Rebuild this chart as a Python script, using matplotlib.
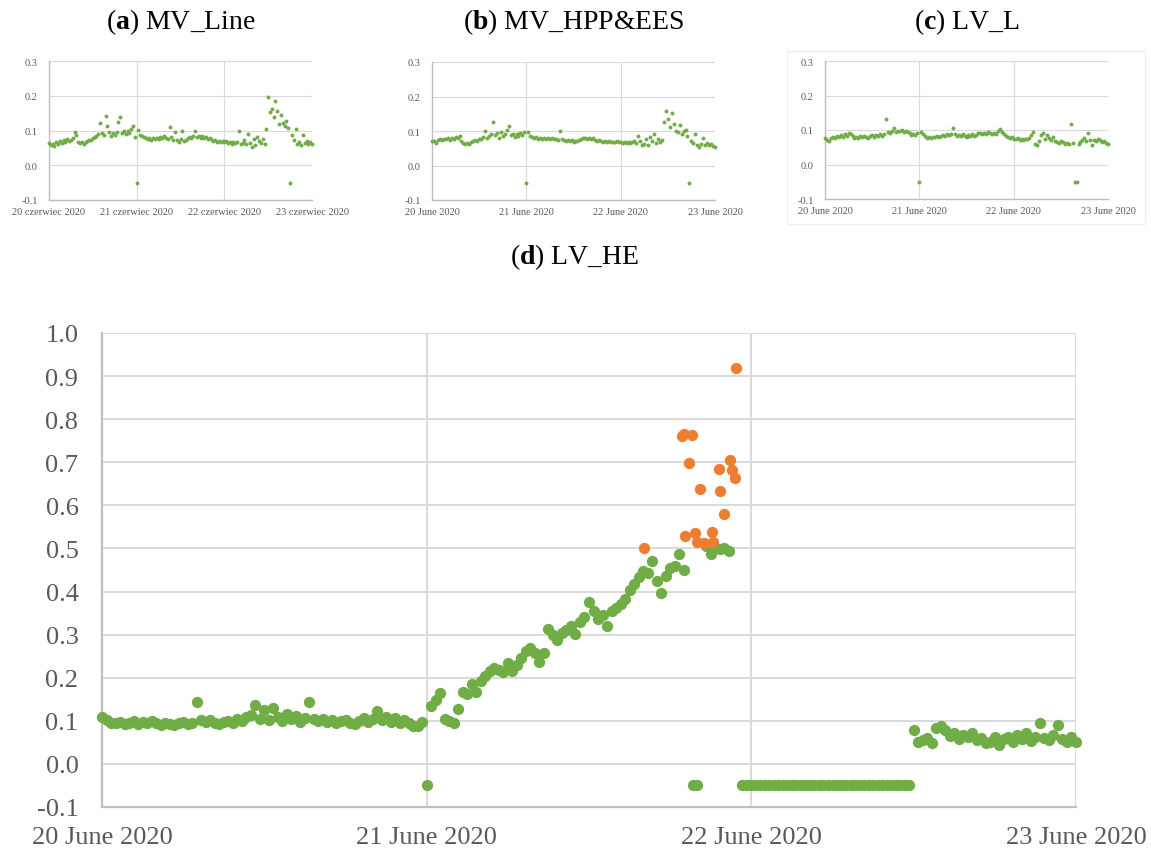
import numpy as np
import pandas as pd
import matplotlib
matplotlib.use('Agg')
import matplotlib.pyplot as plt
from matplotlib.patches import Rectangle

plt.rcParams['font.family'] = ['Liberation Serif', 'DejaVu Serif']
plt.rcParams['mathtext.fontset'] = 'custom'
plt.rcParams['mathtext.rm'] = 'Liberation Serif'
plt.rcParams['mathtext.bf'] = 'Liberation Serif:bold'

nan = np.nan

# ---------------- data ----------------
# small charts: 30-minute samples, 20 June 00:00 .. 23 June 00:00
mv_line = [
    0.064, 0.058, 0.062, 0.056, 0.066, 0.060, 0.070, 0.065, 0.072, 0.068,
    0.075, 0.071, 0.074, 0.078, 0.096, 0.088, 0.068, 0.063, 0.066, 0.062,
    0.068, 0.071, 0.074, 0.072, 0.078, 0.080, 0.085, 0.089, 0.121, 0.092,
    0.086, 0.143, 0.114, 0.095, 0.085, 0.092, 0.088, 0.095, 0.125, 0.138,
    0.092, 0.098, 0.090, 0.100, 0.094, 0.104, 0.112, 0.080, -0.05, 0.102,
    0.088, 0.084, 0.080, 0.078, 0.076, 0.079, 0.074, 0.077, 0.075, 0.078,
    0.076, 0.080, 0.078, 0.083, 0.079, 0.076, 0.110, 0.080, 0.074, 0.096,
    0.072, 0.068, 0.075, 0.098, 0.070, 0.073, 0.078, 0.082, 0.079, 0.084,
    0.098, 0.081, 0.083, 0.079, 0.084, 0.078, 0.081, 0.076, 0.079, 0.074,
    0.070, 0.073, 0.068, 0.071, 0.067, 0.070, 0.066, 0.069, 0.064, 0.068,
    0.062, 0.067, 0.063, 0.066, 0.098, 0.061, 0.065, 0.072, 0.060, 0.089,
    0.063, 0.052, 0.075, 0.058, 0.082, 0.070, 0.064, 0.076, 0.062, 0.104,
    0.197, 0.152, 0.163, 0.140, 0.185, 0.155, 0.118, 0.144, 0.122, 0.113,
    0.127, 0.108, -0.05, 0.088, 0.074, 0.104, 0.062, 0.066, 0.058, 0.088,
    0.064, 0.070, 0.062, 0.066, 0.060,
]
mv_hpp_ees = [
    0.072, 0.070, 0.064, 0.075, 0.077, 0.073, 0.078, 0.076, 0.079, 0.074,
    0.080, 0.077, 0.083, 0.079, 0.086, 0.070, 0.066, 0.062, 0.064, 0.063,
    0.068, 0.070, 0.073, 0.071, 0.076, 0.078, 0.082, 0.100, 0.079, 0.085,
    0.090, 0.126, 0.088, 0.094, 0.081, 0.096, 0.085, 0.091, 0.104, 0.115,
    0.087, 0.092, 0.084, 0.090, 0.086, 0.093, 0.088, 0.097, -0.05, 0.098,
    0.085, 0.083, 0.080, 0.082, 0.077, 0.079, 0.076, 0.080, 0.078, 0.081,
    0.077, 0.079, 0.076, 0.078, 0.075, 0.100, 0.077, 0.074, 0.072, 0.075,
    0.070, 0.073, 0.069, 0.072, 0.070, 0.074, 0.076, 0.079, 0.081, 0.078,
    0.080, 0.076, 0.079, 0.074, 0.072, 0.075, 0.070, 0.069, 0.071, 0.068,
    0.070, 0.067, 0.069, 0.068, 0.070, 0.067, 0.069, 0.066, 0.068, 0.065,
    0.067, 0.064, 0.068, 0.072, 0.066, 0.085, 0.070, 0.058, 0.063, 0.078,
    0.060, 0.083, 0.072, 0.090, 0.065, 0.078, 0.068, 0.073, 0.125, 0.157,
    0.135, 0.112, 0.153, 0.120, 0.100, 0.097, 0.117, 0.092, 0.100, 0.104,
    0.085, -0.05, 0.070, 0.064, 0.092, 0.060, 0.055, 0.062, 0.080, 0.058,
    0.064, 0.060, 0.062, 0.056, 0.055,
]
lv_l = [
    0.076, 0.072, 0.068, 0.078, 0.080, 0.076, 0.083, 0.079, 0.085, 0.081,
    0.087, 0.083, 0.092, 0.088, 0.084, 0.078, 0.081, 0.077, 0.082, 0.079,
    0.083, 0.080, 0.078, 0.083, 0.086, 0.081, 0.085, 0.082, 0.087, 0.084,
    0.089, 0.132, 0.094, 0.090, 0.097, 0.105, 0.094, 0.098, 0.096, 0.099,
    0.093, 0.097, 0.095, 0.090, 0.086, 0.089, 0.085, 0.092, -0.05, 0.095,
    0.088, 0.082, 0.078, 0.080, 0.077, 0.081, 0.079, 0.083, 0.080, 0.084,
    0.086, 0.083, 0.088, 0.085, 0.087, 0.105, 0.089, 0.084, 0.086, 0.082,
    0.088, 0.084, 0.080, 0.085, 0.083, 0.087, 0.082, 0.086, 0.090, 0.092,
    0.088, 0.091, 0.089, 0.093, 0.090, 0.087, 0.091, 0.088, 0.096, 0.102,
    0.093, 0.088, 0.084, 0.080, 0.077, 0.079, 0.075, 0.073, 0.076, 0.072,
    0.074, 0.071, 0.075, 0.073, 0.078, 0.085, 0.095, 0.060, 0.056, 0.068,
    0.085, 0.090, 0.074, 0.086, 0.076, 0.071, 0.080, 0.068, 0.066, 0.062,
    0.068, 0.064, 0.060, 0.063, 0.058, 0.118, 0.062, -0.05, -0.05, 0.058,
    0.066, 0.072, 0.078, 0.068, 0.092, 0.070, 0.056, 0.072, 0.068, 0.075,
    0.070, 0.066, 0.068, 0.062, 0.058,
]

# main chart (d): 20-minute samples, green series
lv_he = [
    0.108, 0.101, 0.096, 0.094, 0.098, 0.093, 0.096, 0.099, 0.092, 0.097,
    0.094, 0.099, 0.095, 0.091, 0.096, 0.093, 0.090, 0.094, 0.097, 0.093,
    0.096, 0.143, 0.101, 0.098, 0.102, 0.096, 0.092, 0.097, 0.100, 0.095,
    0.104, 0.099, 0.108, 0.113, 0.137, 0.105, 0.126, 0.103, 0.129, 0.110,
    0.100, 0.115, 0.104, 0.112, 0.098, 0.107, 0.143, 0.104, 0.099, 0.105,
    0.097, 0.102, 0.094, 0.099, 0.103, 0.096, 0.092, 0.100, 0.106, 0.097,
    0.104, 0.123, 0.101, 0.110, 0.098, 0.106, 0.096, 0.102, 0.094, 0.089,
    0.088, 0.097,
    -0.05, 0.134, 0.148, 0.165, 0.104, 0.100, 0.095, 0.127, 0.168, 0.162,
    0.185, 0.166, 0.192, 0.203, 0.215, 0.222, 0.218, 0.213, 0.234, 0.215,
    0.229, 0.245, 0.262, 0.268, 0.257, 0.236, 0.258, 0.312, 0.298, 0.287,
    0.303, 0.310, 0.319, 0.301, 0.329, 0.342, 0.375, 0.354, 0.336, 0.345,
    0.319, 0.356, 0.362, 0.370, 0.382, 0.404, 0.418, 0.433, 0.447, 0.442,
    0.472, 0.424, 0.396, 0.435, 0.454, 0.460, 0.486, 0.451,
    nan, -0.05, -0.05, nan, 0.505, 0.488, 0.502, 0.498, 0.500, 0.493,
    nan, nan,
    -0.05, -0.05, -0.05, -0.05, -0.05, -0.05, -0.05, -0.05, -0.05, -0.05,
    -0.05, -0.05, -0.05, -0.05, -0.05, -0.05, -0.05, -0.05, -0.05, -0.05,
    -0.05, -0.05, -0.05, -0.05, -0.05, -0.05, -0.05, -0.05, -0.05, -0.05,
    -0.05, -0.05, -0.05, -0.05, -0.05, -0.05, -0.05, -0.05,
    0.079, 0.050, 0.055, 0.061, 0.048, 0.084, 0.088, 0.078, 0.065, 0.072,
    0.058, 0.068, 0.062, 0.072, 0.055, 0.060, 0.048, 0.052, 0.062, 0.044,
    0.057, 0.063, 0.052, 0.066, 0.058, 0.071, 0.053, 0.062, 0.094, 0.060,
    0.055, 0.068, 0.090, 0.057, 0.050, 0.063, 0.052,
]
# orange points (hours after 20 June 00:00, value)
orange_hours = [40.1, 42.9, 43.0, 43.1, 43.4, 43.6, 43.8, 44.0, 44.2, 44.5,
                45.1, 45.2, 45.6, 45.7, 46.0, 46.4, 46.6, 46.8, 46.9]
orange_vals = [0.502, 0.760, 0.766, 0.528, 0.699, 0.764, 0.537, 0.516, 0.639, 0.512,
               0.539, 0.514, 0.685, 0.634, 0.581, 0.706, 0.683, 0.664, 0.919]

day_ticks = ['2020-06-20', '2020-06-21', '2020-06-22', '2020-06-23']
labels_pl = ['20 czerwiec 2020', '21 czerwiec 2020', '22 czerwiec 2020', '23 czerwiec 2020']
labels_en = ['20 June 2020', '21 June 2020', '22 June 2020', '23 June 2020']
small_yticks = [-0.1, 0.0, 0.1, 0.2, 0.3]
small_ylabels = ['-0.1', '0.0', '0.1', '0.2', '0.3']
main_yticks = [-0.1, 0.0, 0.1, 0.2, 0.3, 0.4, 0.5, 0.6, 0.7, 0.8, 0.9, 1.0]
main_ylabels = ['-0.1', '0.0', '0.1', '0.2', '0.3', '0.4', '0.5', '0.6', '0.7', '0.8', '0.9', '1.0']

titles = [('a', 'MV_Line'), ('b', 'MV_HPP&EES'), ('c', 'LV_L'), ('d', 'LV_HE')]

# ---------------- drawing ----------------
GREEN = '#70AD47'
ORANGE = '#ED7D31'
GRID = '#D9D9D9'
AXIS = '#BFBFBF'
TXT = '#595959'

t_small = pd.date_range('2020-06-20', periods=len(mv_line), freq='30min')
t_main = pd.date_range('2020-06-20', periods=len(lv_he), freq='20min')
t_orange = pd.Timestamp('2020-06-20') + pd.to_timedelta(orange_hours, unit='h')
xt = pd.to_datetime(day_ticks)

W, H = 1151, 854
fig = plt.figure(figsize=(W / 100, H / 100), dpi=100)


def style(ax, yticks, ylabels, xlabels, fs, ypad, xpad, glw, alw):
    ax.set_xlim(xt[0], xt[-1])
    ax.set_ylim(yticks[0], yticks[-1])
    ax.set_xticks(xt)
    ax.set_xticklabels(xlabels)
    ax.set_yticks(yticks)
    ax.set_yticklabels(ylabels)
    ax.grid(True, color=GRID, lw=glw)
    ax.set_axisbelow(True)
    for s in ('top', 'right'):
        ax.spines[s].set_visible(False)
    for s in ('left', 'bottom'):
        ax.spines[s].set_color(AXIS)
        ax.spines[s].set_linewidth(alw)
    ax.tick_params(axis='both', length=0, labelsize=fs, labelcolor=TXT)
    ax.tick_params(axis='y', pad=ypad)
    ax.tick_params(axis='x', pad=xpad)


# faint chart-area frame around panel (c)
fig.add_artist(Rectangle((787 / W, 1 - 225 / H), (1145 - 787) / W, (225 - 52) / H,
                         transform=fig.transFigure, fill=False, ec='#EEEEEE', lw=0.8))

small_pos = [
    (49, 312, 62, 201),
    (432, 715, 63, 201),
    (825, 1108, 62, 200),
]
small_data = [mv_line, mv_hpp_ees, lv_l]
small_xlabels = [labels_pl, labels_en, labels_en]
for (l, r, t, b), vals, xl, (lt, name) in zip(small_pos, small_data, small_xlabels, titles[:3]):
    ax = fig.add_axes([l / W, 1 - b / H, (r - l) / W, (b - t) / H])
    style(ax, small_yticks, small_ylabels, xl, 7.5, 8, 5, 0.8, 1.0)
    ax.scatter(t_small, vals, s=8, color=GREEN, linewidths=0, clip_on=False, zorder=3)
    fig.text((l + r) / 2 / W, 1 - 22 / H, r'($\mathbf{%s}$) %s' % (lt, name),
             ha='center', va='center', fontsize=20)

axm = fig.add_axes([102 / W, 1 - 808 / H, 974 / W, 474 / H])
style(axm, main_yticks, main_ylabels, labels_en, 19, 17, 14, 1.4, 1.6)
axm.scatter(t_main, lv_he, s=66, color=GREEN, linewidths=0, clip_on=False, zorder=3)
axm.scatter(t_orange, orange_vals, s=66, color=ORANGE, linewidths=0, clip_on=False, zorder=4)
fig.text(575 / W, 1 - 257 / H, r'($\mathbf{d}$) LV_HE', ha='center', va='center', fontsize=20)

fig.savefig('out.png', dpi=100)
